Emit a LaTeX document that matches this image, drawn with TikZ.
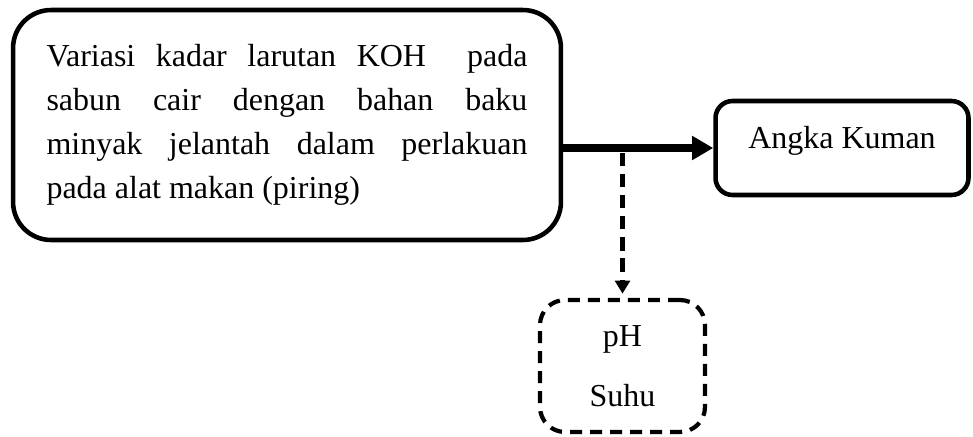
\documentclass[tikz,border=0pt]{standalone}
\usepackage{fontspec}
\setmainfont{Liberation Serif}
\usetikzlibrary{arrows.meta,positioning,calc}

\tikzset{
  kotak/.style={draw, line width=2.6pt, rounded corners=0.76cm, inner sep=0pt},
  hasil/.style={draw, line width=2.6pt, rounded corners=0.34cm, inner sep=0pt},
  kendali/.style={draw, line width=2.4pt, rounded corners=0.5cm, inner sep=0pt,
                  dash pattern=on 6.8pt off 4.6pt},
  panah/.style={line width=4.8pt, -{Triangle[length=12pt,width=13pt]}},
  panahputus/.style={line width=2.4pt, dash pattern=on 7.5pt off 4.5pt,
                     -{Triangle[length=7.5pt,width=8.5pt]}, shorten >=2.4pt}
}

\begin{document}
\begin{tikzpicture}[x=0.02cm, y=-0.02cm]
  \useasboundingbox (0,0) rectangle (973,436) ;
  \fontsize{18.2}{25}\selectfont

  %Draw variable box (left)
  \node[kotak, minimum width=10.96cm, minimum height=4.6cm, text width=9.62cm, align=justify]
    (variasi) at (287,125)
    {Variasi kadar larutan KOH \ pada\linebreak
     sabun cair dengan bahan baku\linebreak
     minyak jelantah dalam perlakuan\linebreak
     pada alat makan (piring)} ;

  %Draw outcome box (right)
  \node[hasil, minimum width=5.06cm, minimum height=1.88cm, text height=0.42cm, text depth=0.42cm]
    (angka) at (842,148) {Angka Kuman} ;

  %Draw control box (bottom)
  \node[kendali, minimum width=3.3cm, minimum height=2.64cm, align=center]
    (kontrol) at (622.5,366) {pH\\[9pt]Suhu} ;

  %Draw arrows
  \draw[panah] (variasi.east |- angka.west) -- (angka.west) ;
  \coordinate (cabang) at (kontrol.north |- angka.west) ;
  \draw[panahputus] ($(cabang)+(0,5)$) -- (kontrol.north) ;
\end{tikzpicture}
\end{document}
